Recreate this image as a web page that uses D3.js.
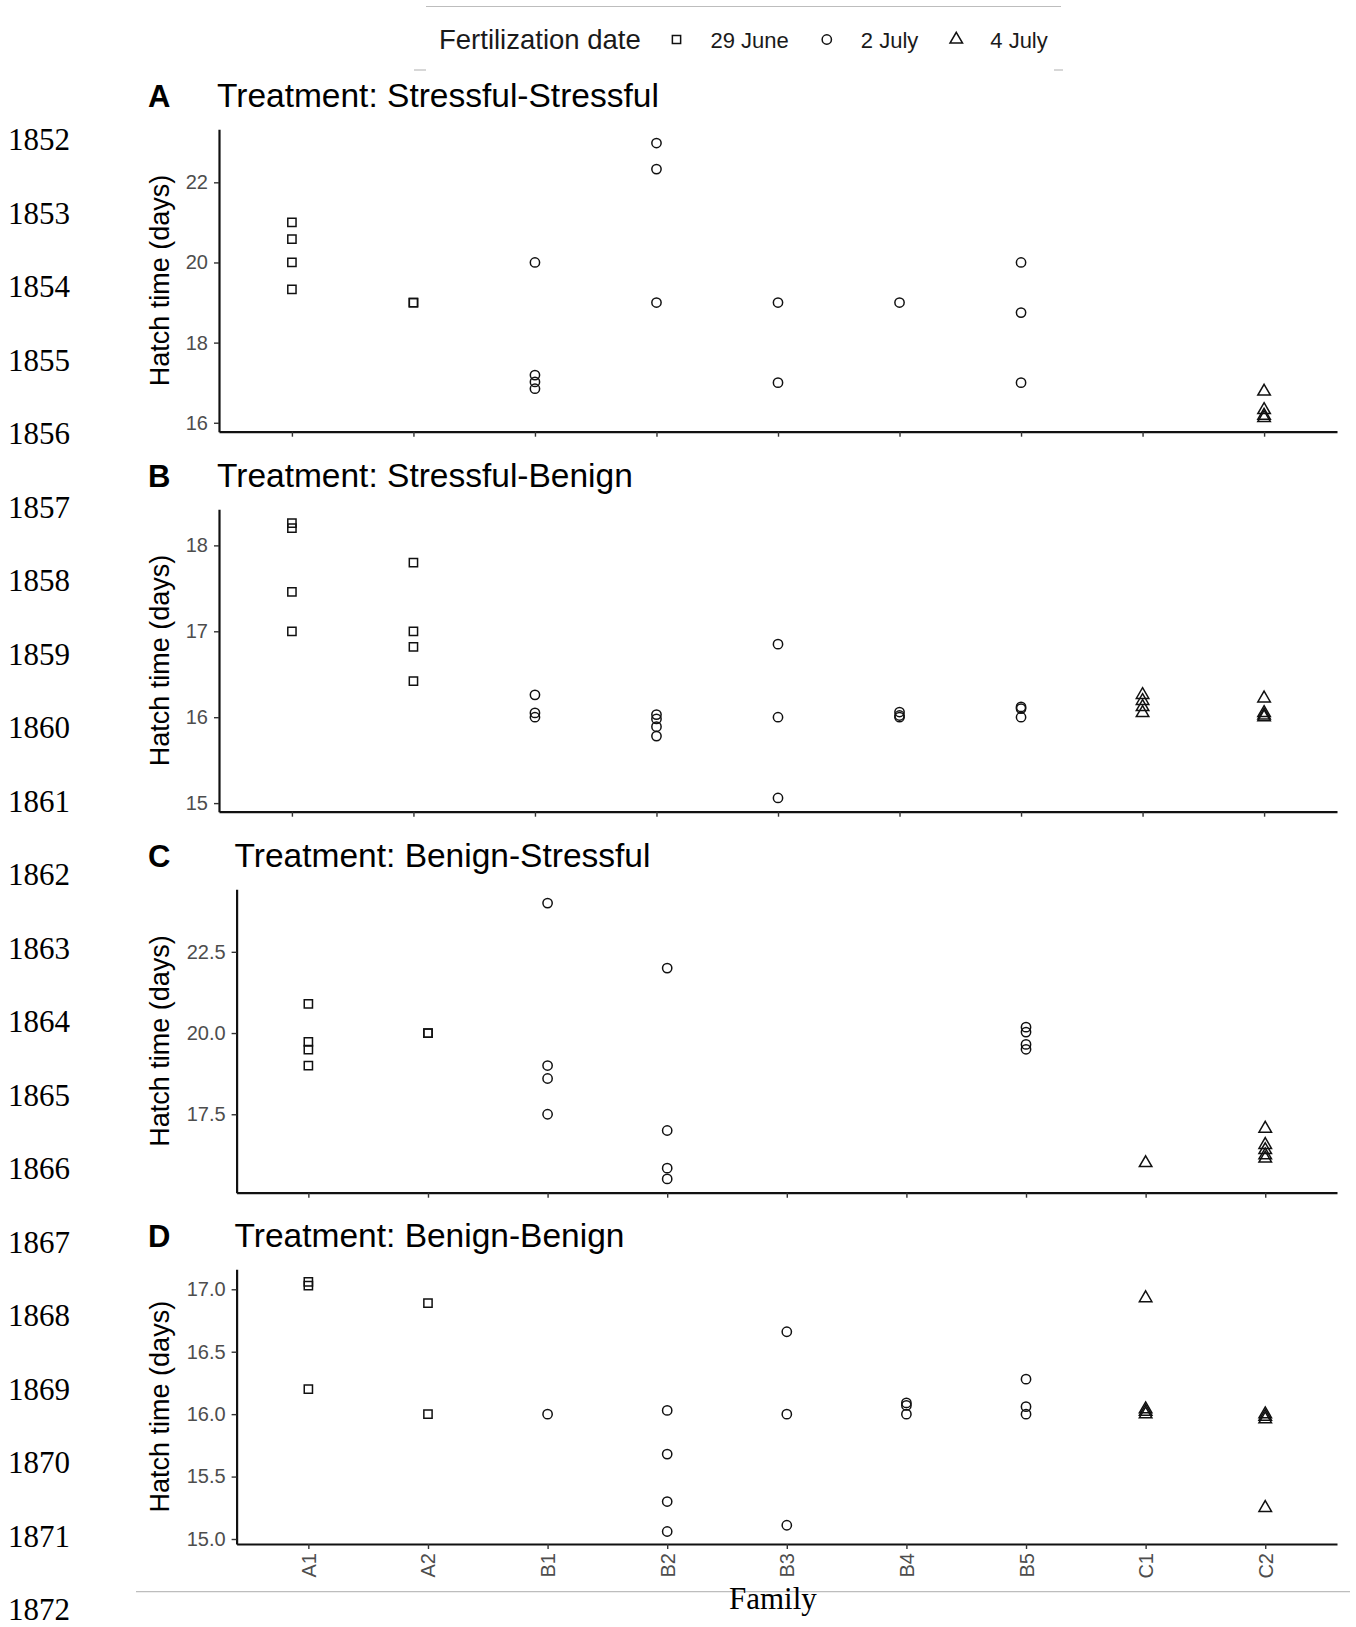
<!DOCTYPE html>
<html>
<head>
<meta charset="utf-8">
<script src="https://cdn.jsdelivr.net/npm/d3@7"></script>
<style>
  body { margin: 0; background: #fff; }
  svg { display: block; }
</style>
</head>
<body>
<div id="chart"></div>
<script>
// Families on the x axis and their fertilization date (drives the symbol)
const families = ['A1', 'A2', 'B1', 'B2', 'B3', 'B4', 'B5', 'C1', 'C2'];
const familyDate = ['29 June', '29 June', '2 July', '2 July', '2 July', '2 July', '2 July', '4 July', '4 July'];
const dates = ['29 June', '2 July', '4 July'];

const panelLetters = ['A', 'B', 'C', 'D'];
const treatments = ['Stressful-Stressful', 'Stressful-Benign', 'Benign-Stressful', 'Benign-Benign'];

// Hatch time (days), one list per family, in the order of `families`
const hatchSS = [
  [21.0, 20.58, 20.0, 19.33],
  [19.0, 19.0],
  [20.0, 17.19, 17.02, 16.85],
  [22.98, 22.33, 19.0],
  [19.0, 17.0],
  [19.0],
  [20.0, 18.75, 17.0],
  [],
  [16.78, 16.32, 16.18, 16.12]
];
const hatchSB = [
  [18.26, 18.2, 17.46, 17.0],
  [17.8, 17.0, 16.82, 16.42],
  [16.26, 16.05, 16.0],
  [16.03, 15.98, 15.89, 15.78],
  [16.85, 16.0, 15.06],
  [16.06, 16.02, 16.0],
  [16.12, 16.1, 16.0],
  [16.26, 16.19, 16.12, 16.05],
  [16.22, 16.05, 16.02, 16.0]
];
const hatchBS = [
  [20.9, 19.73, 19.49, 19.0],
  [20.0, 20.0],
  [24.0, 19.0, 18.6, 17.5],
  [22.0, 17.0, 15.84, 15.51],
  [],
  [],
  [20.18, 20.03, 19.65, 19.5],
  [16.0],
  [17.06, 16.56, 16.4, 16.24, 16.14]
];
const hatchBB = [
  [17.06, 17.03, 16.2],
  [16.89, 16.0],
  [16.0],
  [16.03, 15.68, 15.3, 15.06],
  [16.66, 16.0, 15.11],
  [16.09, 16.07, 16.0],
  [16.28, 16.06, 16.0],
  [16.93, 16.04, 16.02, 16.0],
  [16.0, 15.98, 15.96, 15.25]
];

const yTicksSS = [16, 18, 20, 22];
const yTicksSB = [15, 16, 17, 18];
const yTicksBS = [17.5, 20, 22.5];
const yTicksBB = [15, 15.5, 16, 16.5, 17];

// Manuscript line numbers down the left margin
const lineNumbers = d3.range(1852, 1873);

const W = 1356, H = 1627;
const SANS = '"Liberation Sans", Arial, Helvetica, sans-serif';
const SERIF = '"Liberation Serif", "Times New Roman", serif';

const svg = d3.select('#chart').append('svg')
  .attr('width', W).attr('height', H)
  .style('background', '#fff');

const symbolFor = d3.scaleOrdinal()
  .domain(dates)
  .range([d3.symbolSquare, d3.symbolCircle, d3.symbolTriangle]);
const sym = d3.symbol().size(68);

// Panel boxes (plot area only)
const panels = [
  { data: hatchSS, ticks: yTicksSS, fmt: d3.format('d'),   top: 129.3,  bottom: 431.7, left: 219 },
  { data: hatchSB, ticks: yTicksSB, fmt: d3.format('d'),   top: 509.3,  bottom: 811.7, left: 219 },
  { data: hatchBS, ticks: yTicksBS, fmt: d3.format('.1f'), top: 889.3,  bottom: 1192.7, left: 236.6 },
  { data: hatchBB, ticks: yTicksBB, fmt: d3.format('.1f'), top: 1269.3, bottom: 1544, left: 236.6 }
];
const right = 1337;

panels.forEach((p, i) => {
  const g = svg.append('g');

  // ggplot-style 5% expansion around the data
  const all = p.data.flat();
  const [lo, hi] = d3.extent(all);
  const pad = (hi - lo) * 0.05;

  const x = d3.scalePoint().domain(families).range([p.left, right]).padding(0.6);
  const y = d3.scaleLinear().domain([lo - pad, hi + pad]).range([p.bottom, p.top]);

  // y axis
  const ya = g.append('g')
    .attr('transform', `translate(${p.left},0)`)
    .call(d3.axisLeft(y).tickValues(p.ticks).tickFormat(p.fmt).tickSize(5).tickSizeOuter(0).tickPadding(6));
  ya.select('.domain').attr('stroke', '#111').attr('stroke-width', 2.2);
  ya.selectAll('.tick line').attr('stroke', '#333').attr('stroke-width', 1.4);
  ya.selectAll('.tick text').attr('fill', '#4d4d4d').attr('font-size', 20).attr('font-family', SANS);

  // x axis
  const xa = g.append('g')
    .attr('transform', `translate(0,${p.bottom})`)
    .call(d3.axisBottom(x).tickSize(5).tickSizeOuter(0));
  xa.select('.domain').attr('stroke', '#111').attr('stroke-width', 2.2);
  xa.selectAll('.tick line').attr('stroke', '#333').attr('stroke-width', 1.4);
  if (i === panels.length - 1) {
    xa.selectAll('.tick text')
      .attr('fill', '#4d4d4d').attr('font-size', 20).attr('font-family', SANS)
      .attr('transform', 'rotate(-90)')
      .attr('x', -9).attr('y', 0).attr('dy', '0.35em')
      .attr('text-anchor', 'end');
  } else {
    xa.selectAll('.tick text').remove();
  }

  // y axis title
  const midY = (p.top + p.bottom) / 2;
  g.append('text')
    .attr('transform', `translate(169,${midY}) rotate(-90)`)
    .attr('text-anchor', 'middle')
    .attr('font-family', SANS).attr('font-size', 27).attr('fill', '#000')
    .text('Hatch time (days)');

  // panel letter + title
  g.append('text')
    .attr('x', 148).attr('y', p.top - 22)
    .attr('font-family', SANS).attr('font-weight', 'bold').attr('font-size', 31)
    .text(panelLetters[i]);
  g.append('text')
    .attr('x', p.left - 2).attr('y', p.top - 22)
    .attr('font-family', SANS).attr('font-size', 33.5)
    .text('Treatment: ' + treatments[i]);

  // points
  const pts = [];
  p.data.forEach((vals, fi) => vals.forEach(v => pts.push({ fam: families[fi], date: familyDate[fi], v })));
  g.append('g').selectAll('path')
    .data(pts)
    .join('path')
    .attr('transform', d => `translate(${x(d.fam)},${y(d.v)})`)
    .attr('d', d => sym.type(symbolFor(d.date))())
    .attr('fill', 'none')
    .attr('stroke', '#111')
    .attr('stroke-width', 1.5);
});

// Legend
const leg = svg.append('g');
leg.append('line').attr('x1', 426).attr('x2', 1061).attr('y1', 6.5).attr('y2', 6.5)
  .attr('stroke', '#bdbdbd').attr('stroke-width', 1.2);
leg.append('line').attr('x1', 414).attr('x2', 426).attr('y1', 70).attr('y2', 70)
  .attr('stroke', '#bdbdbd').attr('stroke-width', 1.2);
leg.append('line').attr('x1', 1054).attr('x2', 1063).attr('y1', 70).attr('y2', 70)
  .attr('stroke', '#bdbdbd').attr('stroke-width', 1.2);
leg.append('text')
  .attr('x', 439).attr('y', 48.5)
  .attr('font-family', SANS).attr('font-size', 27.5).attr('fill', '#1a1a1a')
  .text('Fertilization date');

// lay the keys out one after the other, like a horizontal ggplot legend
let cursor = 676.5;
dates.forEach(d => {
  const item = leg.append('g').attr('transform', `translate(${cursor},39.5)`);
  item.append('path')
    .attr('d', sym.type(symbolFor(d))())
    .attr('fill', 'none').attr('stroke', '#111').attr('stroke-width', 1.5);
  const t = item.append('text')
    .attr('x', 34).attr('y', 8)
    .attr('font-family', SANS).attr('font-size', 22).attr('fill', '#1a1a1a')
    .text(d);
  cursor += 34 + t.node().getComputedTextLength() + 38;
});

// Bottom rule and x title
svg.append('line').attr('x1', 136).attr('x2', 1350).attr('y1', 1591.7).attr('y2', 1591.7)
  .attr('stroke', '#bdbdbd').attr('stroke-width', 1.2);
svg.append('text')
  .attr('x', 729).attr('y', 1609)
  .attr('font-family', SERIF).attr('font-size', 31)
  .text('Family');

// Line numbers
svg.append('g').selectAll('text')
  .data(lineNumbers)
  .join('text')
  .attr('x', 8)
  .attr('y', (d, i) => 150 + i * 73.5)
  .attr('font-family', SERIF).attr('font-size', 31)
  .text(d => d);
</script>
</body>
</html>
